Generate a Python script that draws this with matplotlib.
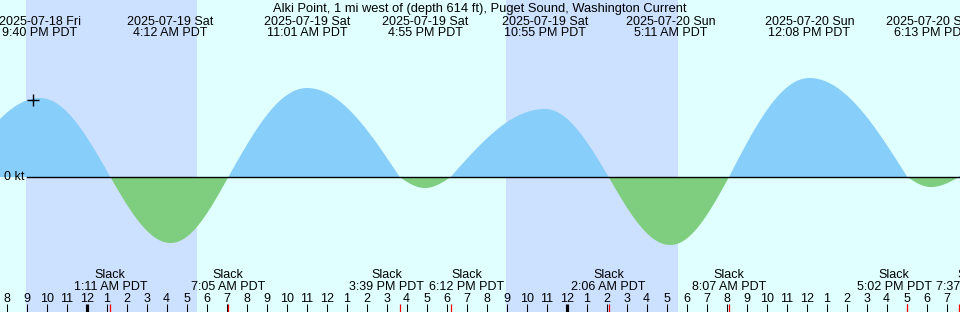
import numpy as np
import pandas as pd
import matplotlib
matplotlib.use('agg')
import matplotlib.pyplot as plt
import matplotlib.dates as mdates
from matplotlib.transforms import blended_transform_factory, offset_copy

plt.rcParams['font.family'] = ['Liberation Sans', 'DejaVu Sans']

title = 'Alki Point, 1 mi west of (depth 614 ft), Puget Sound, Washington Current'

# current events (time, knots); slack = 0
event_times = ['2025-07-18 17:28', '2025-07-18 21:40', '2025-07-19 01:11', '2025-07-19 04:12',
               '2025-07-19 07:05', '2025-07-19 11:01', '2025-07-19 15:39', '2025-07-19 16:55',
               '2025-07-19 18:12', '2025-07-19 22:55', '2025-07-20 02:06', '2025-07-20 05:11',
               '2025-07-20 08:07', '2025-07-20 12:08', '2025-07-20 17:02', '2025-07-20 18:13',
               '2025-07-20 19:37', '2025-07-20 22:40']
event_speeds = [0.0, 0.79, 0.0, -0.66, 0.0, 0.89, 0.0, -0.11, 0.0, 0.68, 0.0, -0.68,
                0.0, 0.99, 0.0, -0.10, 0.0, 0.70]

# labelled maxima at the top
max_dates = ['2025-07-18 Fri', '2025-07-19 Sat', '2025-07-19 Sat', '2025-07-19 Sat',
             '2025-07-19 Sat', '2025-07-20 Sun', '2025-07-20 Sun', '2025-07-20 Sun']
max_labels = ['9:40 PM PDT', '4:12 AM PDT', '11:01 AM PDT', '4:55 PM PDT',
              '10:55 PM PDT', '5:11 AM PDT', '12:08 PM PDT', '6:13 PM PDT']
max_times = ['2025-07-18 21:40', '2025-07-19 04:12', '2025-07-19 11:01', '2025-07-19 16:55',
             '2025-07-19 22:55', '2025-07-20 05:11', '2025-07-20 12:08', '2025-07-20 18:13']

# slack labels at the bottom
slack_times = ['2025-07-19 01:11', '2025-07-19 07:05', '2025-07-19 15:39', '2025-07-19 18:12',
               '2025-07-20 02:06', '2025-07-20 08:07', '2025-07-20 17:02', '2025-07-20 19:37']
slack_labels = ['1:11 AM PDT', '7:05 AM PDT', '3:39 PM PDT', '6:12 PM PDT',
                '2:06 AM PDT', '8:07 AM PDT', '5:02 PM PDT', '7:37 PM PDT']
# pixel nudges so neighbouring labels don't collide
slack_nudge = [0, 0, -13, 16, 0, 0, -13, 14]

# night (sunset, sunrise)
night_start = ['2025-07-18 20:59', '2025-07-19 20:57']
night_end = ['2025-07-19 05:31', '2025-07-20 05:33']

now_time = '2025-07-18 21:19'
now_speed = 0.77

t_start = pd.Timestamp('2025-07-18 19:40')
t_end = pd.Timestamp('2025-07-20 19:40')

BG = '#e0ffff'
NIGHT = '#cce0ff'
FLOOD = '#87cefa'
EBB = '#7fce7f'
H = 312.0


def num(ts):
    return mdates.date2num(pd.to_datetime(ts))


# curve: quarter-sine between slack and extreme
et = num(event_times)
ev = np.array(event_speeds)
t = np.linspace(et[0], et[-1], 4000)
v = np.zeros_like(t)
for i in range(len(et) - 1):
    m = (t >= et[i]) & (t <= et[i + 1])
    f = (t[m] - et[i]) / (et[i + 1] - et[i])
    if ev[i] == 0:
        v[m] = ev[i + 1] * np.sin(np.pi / 2 * f)
    else:
        v[m] = ev[i] * np.cos(np.pi / 2 * f)

fig = plt.figure(figsize=(9.6, 3.12), dpi=100)
ax = fig.add_axes([0, 0, 1, 1])
ax.set_facecolor(BG)
ax.set_xlim(num(t_start), num(t_end))
ax.set_ylim(-1.35, 1.77)
ax.axis('off')
fig.patch.set_facecolor(BG)

for a, b in zip(night_start, night_end):
    ax.axvspan(num(a), num(b), color=NIGHT, lw=0, zorder=0)

ax.fill_between(t, 0, v, where=v >= 0, color=FLOOD, lw=0, interpolate=True, zorder=1)
ax.fill_between(t, 0, v, where=v <= 0, color=EBB, lw=0, interpolate=True, zorder=1)

tr = blended_transform_factory(ax.transData, ax.transAxes)
ax.axhline(0, xmin=27 / 960.0, xmax=1, color='black', lw=1, zorder=2)
ax.text(24 / 960.0, 0, '0 kt', transform=blended_transform_factory(ax.transAxes, ax.transData),
        ha='right', va='center', fontsize=9)

ax.plot([num(now_time)], [now_speed], marker='+', color='black', ms=9, mew=1, zorder=3)


def fy(px):
    return 1 - px / H


ax.text(0.5, fy(12), title, transform=ax.transAxes, ha='center', va='baseline', fontsize=9.3)

for d, lab, tt in zip(max_dates, max_labels, max_times):
    x = num(tt)
    ax.text(x, fy(25), d, transform=tr, ha='center', va='baseline', fontsize=9)
    ax.text(x, fy(36.5), lab, transform=tr, ha='center', va='baseline', fontsize=9)

# hour ticks
hours = pd.date_range('2025-07-18 20:00', '2025-07-20 19:00', freq='h')
for h in hours:
    x = num(h)
    lw = 3 if h.hour == 0 else 1
    ax.plot([x, x], [fy(304), 0], transform=tr, color='black', lw=lw * 0.75,
            solid_capstyle='butt', zorder=3, clip_on=False)
    ax.text(x, fy(302), str(h.hour % 12 or 12), transform=tr, ha='center',
            va='baseline', fontsize=9)

for st, lab, dx in zip(slack_times, slack_labels, slack_nudge):
    x = num(st)
    ax.plot([x, x], [fy(304), 0], transform=tr, color='red', lw=0.9,
            solid_capstyle='butt', zorder=4, clip_on=False)
    ttr = offset_copy(tr, fig=fig, x=dx * 0.72, y=0, units='points')
    ax.text(x, fy(278), 'Slack', transform=ttr, ha='center', va='baseline', fontsize=9)
    ax.text(x, fy(290), lab, transform=ttr, ha='center', va='baseline', fontsize=9)

plt.savefig('out.png', dpi=100, facecolor=BG)
